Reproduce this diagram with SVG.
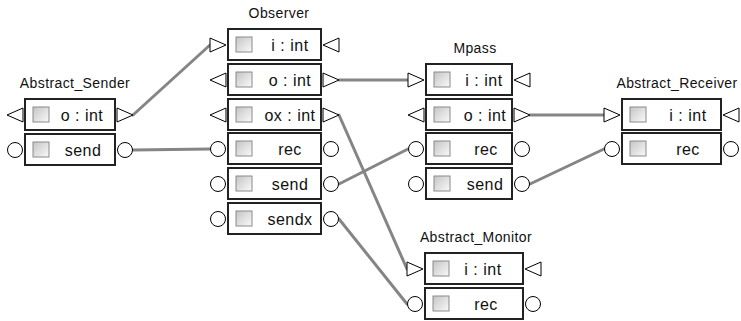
<svg xmlns="http://www.w3.org/2000/svg" xmlns:xlink="http://www.w3.org/1999/xlink" width="741" height="321" viewBox="0 0 741 321">
<style>
.row{fill:#fff;stroke:#222;stroke-width:2}
.chk{fill:url(#g);stroke:#8a8a8a;stroke-width:1}
.port{fill:#fff;stroke:#000;stroke-width:1}
.t{font-family:"Liberation Sans",Arial,sans-serif;font-size:16px;letter-spacing:0.5px;fill:#111;text-anchor:middle}
.lbl{font-family:"Liberation Sans",Arial,sans-serif;font-size:14px;letter-spacing:0.4px;fill:#111;text-anchor:middle}
.c{stroke:#858585;stroke-width:3;fill:none;stroke-linecap:round}
</style>
<defs>
<linearGradient id="g" x1="0" y1="0" x2="1" y2="1">
<stop offset="0" stop-color="#c4c4c4"/>
<stop offset="1" stop-color="#fafafa"/>
</linearGradient>
<polygon id="trR" class="port" points="-8,-7 8,0 -8,7"/>
<polygon id="trL" class="port" points="8,-7 -8,0 8,7"/>
<circle id="circ" class="port" r="7.5"/>
</defs>
<rect width="741" height="321" fill="#fff"/>

<g id="connectors">
<line class="c" x1="133" y1="115" x2="210" y2="45"/>
<line class="c" x1="133" y1="150" x2="210" y2="149"/>
<line class="c" x1="339" y1="80" x2="408" y2="80"/>
<line class="c" x1="339" y1="115" x2="407" y2="269"/>
<line class="c" x1="339" y1="184" x2="408" y2="149"/>
<line class="c" x1="339" y1="219" x2="407" y2="304"/>
<line class="c" x1="530" y1="115" x2="604" y2="115"/>
<line class="c" x1="530" y1="184" x2="604" y2="149"/>
</g>

<g id="Abstract_Sender">
<text class="lbl" x="75" y="88">Abstract_Sender</text>
<rect class="row" x="25" y="99" width="90" height="31"/>
<rect class="chk" x="33" y="107" width="16" height="15"/>
<text class="t" x="82" y="121">o : int</text>
<use href="#trL" x="15" y="115"/>
<use href="#trR" x="125" y="115"/>
<rect class="row" x="25" y="134" width="90" height="31"/>
<rect class="chk" x="33" y="142" width="16" height="15"/>
<text class="t" x="83" y="156">send</text>
<use href="#circ" x="15" y="150"/>
<use href="#circ" x="125" y="150"/>
</g>

<g id="Observer">
<text class="lbl" x="279" y="18">Observer</text>
<rect class="row" x="228" y="29" width="93" height="31"/>
<rect class="chk" x="236" y="37" width="16" height="15"/>
<text class="t" x="290" y="51">i : int</text>
<use href="#trR" x="218" y="45"/>
<use href="#trL" x="331" y="45"/>
<rect class="row" x="228" y="64" width="93" height="31"/>
<rect class="chk" x="236" y="72" width="16" height="15"/>
<text class="t" x="290" y="86">o : int</text>
<use href="#trL" x="218" y="80"/>
<use href="#trR" x="331" y="80"/>
<rect class="row" x="228" y="99" width="93" height="31"/>
<rect class="chk" x="236" y="107" width="16" height="15"/>
<text class="t" x="290" y="121">ox : int</text>
<use href="#trL" x="218" y="115"/>
<use href="#trR" x="331" y="115"/>
<rect class="row" x="228" y="133" width="93" height="31"/>
<rect class="chk" x="236" y="141" width="16" height="15"/>
<text class="t" x="290" y="155">rec</text>
<use href="#circ" x="218" y="149"/>
<use href="#circ" x="331" y="149"/>
<rect class="row" x="228" y="168" width="93" height="31"/>
<rect class="chk" x="236" y="176" width="16" height="15"/>
<text class="t" x="290" y="190">send</text>
<use href="#circ" x="218" y="184"/>
<use href="#circ" x="331" y="184"/>
<rect class="row" x="228" y="203" width="93" height="31"/>
<rect class="chk" x="236" y="211" width="16" height="15"/>
<text class="t" x="290" y="225">sendx</text>
<use href="#circ" x="218" y="219"/>
<use href="#circ" x="331" y="219"/>
</g>

<g id="Mpass">
<text class="lbl" x="475" y="53">Mpass</text>
<rect class="row" x="426" y="64" width="86" height="31"/>
<rect class="chk" x="434" y="72" width="16" height="15"/>
<text class="t" x="484" y="86">i : int</text>
<use href="#trR" x="416" y="80"/>
<use href="#trL" x="522" y="80"/>
<rect class="row" x="426" y="99" width="86" height="31"/>
<rect class="chk" x="434" y="107" width="16" height="15"/>
<text class="t" x="485" y="121">o : int</text>
<use href="#trL" x="416" y="115"/>
<use href="#trR" x="522" y="115"/>
<rect class="row" x="426" y="133" width="86" height="31"/>
<rect class="chk" x="434" y="141" width="16" height="15"/>
<text class="t" x="486" y="155">rec</text>
<use href="#circ" x="416" y="149"/>
<use href="#circ" x="522" y="149"/>
<rect class="row" x="426" y="168" width="86" height="31"/>
<rect class="chk" x="434" y="176" width="16" height="15"/>
<text class="t" x="485" y="190">send</text>
<use href="#circ" x="416" y="184"/>
<use href="#circ" x="522" y="184"/>
</g>

<g id="Abstract_Receiver">
<text class="lbl" x="677" y="88">Abstract_Receiver</text>
<rect class="row" x="622" y="99" width="99" height="31"/>
<rect class="chk" x="630" y="107" width="16" height="15"/>
<text class="t" x="688" y="121">i : int</text>
<use href="#trR" x="612" y="115"/>
<use href="#trL" x="731" y="115"/>
<rect class="row" x="622" y="133" width="99" height="31"/>
<rect class="chk" x="630" y="141" width="16" height="15"/>
<text class="t" x="688" y="155">rec</text>
<use href="#circ" x="612" y="149"/>
<use href="#circ" x="731" y="149"/>
</g>

<g id="Abstract_Monitor">
<text class="lbl" x="476" y="242">Abstract_Monitor</text>
<rect class="row" x="425" y="253" width="98" height="31"/>
<rect class="chk" x="433" y="261" width="16" height="15"/>
<text class="t" x="483" y="275">i : int</text>
<use href="#trR" x="415" y="269"/>
<use href="#trL" x="533" y="269"/>
<rect class="row" x="425" y="288" width="98" height="31"/>
<rect class="chk" x="433" y="296" width="16" height="15"/>
<text class="t" x="486" y="310">rec</text>
<use href="#circ" x="415" y="304"/>
<use href="#circ" x="533" y="304"/>
</g>
</svg>
